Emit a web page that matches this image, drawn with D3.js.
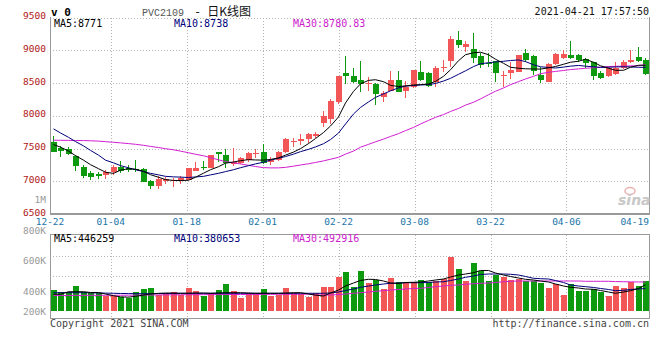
<!DOCTYPE html>
<html>
<head>
<meta charset="utf-8">
<script src="https://cdnjs.cloudflare.com/ajax/libs/d3/7.8.5/d3.min.js"></script>
<style>
body{margin:0;background:#fff}
svg{display:block}
text{font-family:"DejaVu Sans Mono","Liberation Mono",monospace;font-size:10px}
</style>
</head>
<body>
<script>
// PVC2109 daily K line, 80 trading days 12-22 .. 04-21
var tickIdx = [0, 8, 18, 28, 38, 48, 58, 68, 77];
var tickLabels = ["12-22","01-04","01-18","02-01","02-22","03-08","03-22","04-06","04-19"];
var priceTicks = [9500, 9000, 8500, 8000, 7500, 7000, 6500];
var volTickLabels = ["1M","800K","600K","400K","200K"];
var volTickValues = [1000000, 800000, 600000, 400000, 200000];

var open  = [7600,7510,7495,7385,7210,7125,7110,7090,7145,7220,7195,7185,7185,7000,6930,7005,7010,7015,7025,7160,
             7210,7205,7440,7400,7260,7285,7320,7410,7450,7295,7320,7450,7610,7615,7645,7695,7885,7950,8205,8650,
             8610,8550,8485,8485,8290,8380,8550,8380,8445,8665,8650,8520,8730,8840,9160,9050,9025,8905,8805,8830,
             8600,8650,8675,8960,8905,8625,8520,8790,8880,8930,8920,8870,8820,8660,8600,8635,8735,8820,8890,8855];
var high  = [7690,7535,7525,7400,7245,7160,7145,7170,7245,7305,7255,7320,7200,7015,7075,7065,7045,7075,7200,7295,
             7305,7400,7445,7500,7505,7370,7450,7490,7565,7375,7460,7665,7665,7715,7730,7745,8075,8255,8610,8915,
             8730,8830,8590,8500,8385,8690,8690,8535,8700,8830,8675,8765,8855,9220,9290,9145,9265,8960,8960,8830,
             8685,8820,8930,9025,8930,8750,8810,8960,9010,9145,8945,8885,8825,8685,8750,8820,8855,9010,9045,8885];
var low   = [7445,7365,7400,7160,7055,7025,7030,7040,7090,7125,7145,7145,6985,6875,6875,6965,6905,6965,7015,7155,
             7170,7195,7295,7195,7235,7260,7295,7350,7270,7245,7305,7425,7525,7550,7580,7665,7830,7870,8175,8480,
             8500,8360,8380,8165,8205,8375,8360,8275,8430,8535,8445,8435,8675,8750,9035,8980,8805,8730,8750,8520,
             8445,8565,8665,8820,8625,8500,8515,8780,8870,8870,8825,8730,8550,8565,8595,8625,8715,8810,8825,8625];
var close = [7450,7465,7410,7230,7075,7065,7080,7145,7220,7160,7170,7170,6990,6925,7040,7040,7025,7050,7195,7205,
             7200,7400,7410,7280,7295,7350,7435,7435,7280,7320,7450,7645,7620,7645,7715,7725,8000,8225,8610,8600,
             8515,8485,8505,8335,8345,8550,8370,8445,8700,8550,8455,8730,8750,9175,9075,9100,8880,8780,8790,8650,
             8615,8700,8930,8855,8690,8550,8790,8940,8940,8880,8855,8805,8600,8575,8730,8730,8820,8850,8830,8635];
var volume = [357,318,328,425,318,301,301,260,260,243,226,318,369,386,272,301,318,272,386,340,
              255,301,357,459,340,226,301,301,374,260,272,386,301,284,243,301,413,413,583,668,
              413,685,481,527,374,566,488,498,488,527,488,510,544,923,714,510,821,680,510,612,
              573,527,539,515,515,481,396,454,272,459,345,345,369,328,260,425,396,488,425,510];

var ma5  = [7560,7521,7460,7391,7322,7253,7192,7138,7120,7169,7192,7184,7153,7100,7061,7026,7012,7011,7015,7061,
            7123,7176,7222,7276,7294,7314,7330,7325,7322,7333,7357,7399,7445,7498,7575,7652,7744,7843,7981,8196,
            8372,8487,8540,8550,8520,8464,8446,8456,8469,8476,8484,8525,8602,8702,8840,8932,8962,8970,8932,8863,
            8801,8740,8725,8717,8714,8712,8732,8752,8786,8817,8832,8863,8817,8763,8725,8694,8694,8740,8771,8771];
var ma10 = [7800,7737,7671,7606,7540,7471,7399,7322,7281,7239,7205,7176,7147,7121,7097,7075,7067,7063,7057,7066,
            7075,7097,7121,7147,7176,7207,7238,7265,7291,7322,7351,7377,7414,7452,7487,7524,7573,7636,7736,7874,
            8027,8127,8211,8280,8334,8380,8426,8452,8462,8469,8475,8493,8530,8571,8633,8686,8751,8794,8809,8821,
            8832,8843,8852,8827,8778,8748,8737,8729,8743,8757,8768,8757,8748,8738,8741,8745,8748,8745,8740,8738];
var ma30 = [7627,7625,7624,7622,7621,7618,7613,7604,7595,7586,7575,7564,7549,7532,7515,7497,7480,7460,7435,7412,
            7389,7360,7327,7300,7282,7264,7244,7225,7208,7204,7204,7212,7230,7248,7267,7287,7311,7336,7365,7414,
            7461,7520,7563,7602,7644,7684,7727,7773,7822,7874,7929,7975,8018,8065,8111,8162,8206,8257,8321,8374,
            8424,8475,8521,8561,8602,8642,8663,8677,8691,8705,8715,8725,8732,8741,8751,8755,8758,8761,8764,8781];
var vma5  = [284,284,328,328,328,315,315,289,260,240,235,250,270,290,300,305,305,301,301,305,
             305,301,305,311,311,311,305,301,301,301,301,305,311,311,290,270,255,306,357,425,
             476,519,539,536,510,476,468,485,488,493,510,527,544,578,612,629,651,689,689,646,
             612,587,561,539,527,510,493,459,425,403,391,374,369,349,323,301,323,345,383,446];
var vma10 = [311,311,311,311,311,309,306,304,301,298,296,294,294,294,296,298,299,301,301,301,
             301,301,301,301,301,301,301,301,301,301,301,301,301,301,301,301,301,306,323,348,
             374,403,425,442,459,471,476,481,481,481,485,493,498,518,544,573,595,621,629,629,
             629,624,612,587,556,549,544,518,484,442,425,414,400,383,366,345,352,366,375,381];
var vma30 = [264,264,264,265,265,266,266,267,268,268,269,270,271,272,273,274,275,276,277,277,
             278,279,279,280,280,281,281,282,282,283,284,284,285,285,286,272,272,272,280,289,
             301,311,323,335,345,357,366,374,383,386,400,414,425,437,442,454,464,471,476,484,
             498,505,510,510,510,510,510,510,510,510,510,505,505,505,505,500,498,495,494,493];

var RED = "#f25656", GREEN = "#0e9a0e", NAVY = "#00007c", MAG = "#d21ed2";
var GRID = "#b4b4b4", BORDER = "#9a9a9a";

var svg = d3.select("body").append("svg")
    .attr("width", 660)
    .attr("height", 360);

// scales
var x = d3.scaleBand()
    .domain(d3.range(80))
    .range([50, 650])
    .paddingInner(0.2)
    .paddingOuter(0.1);
var gx = d3.scaleLinear().domain([0, 79]).range([50, 650]);
var y = d3.scaleLinear().domain([6500, 9500]).range([214, 17.5]);
var yv = d3.scaleLinear().domain([0, 1000000]).range([311, 311 - 1000000 / 17000]);
var yl = d3.scaleLinear().domain([1000000, 400000]).range([199.5, 291]);

function px(v){ return Math.round(v) + 0.5; }
function cx(i){ return Math.round(x(i)) + 2.5; }

// ---------- main panel grid ----------
var grid = svg.append("g").attr("stroke", GRID).attr("stroke-dasharray", "1,2").attr("fill", "none");
grid.selectAll(".hg")
    .data(priceTicks.slice(0, 6))
    .enter().append("line")
    .attr("x1", 50).attr("x2", 649)
    .attr("y1", function(d){ return px(y(d)); })
    .attr("y2", function(d){ return px(y(d)); });
grid.selectAll(".vg")
    .data(tickIdx.slice(1, 8))
    .enter().append("line")
    .attr("x1", function(d){ return px(gx(d)); })
    .attr("x2", function(d){ return px(gx(d)); })
    .attr("y1", 18).attr("y2", 213);
// volume panel grid
grid.selectAll(".vhg")
    .data([940000, 600000, 260000])
    .enter().append("line")
    .attr("x1", 50).attr("x2", 649)
    .attr("y1", function(d){ return px(yv(d)); })
    .attr("y2", function(d){ return px(yv(d)); });
grid.selectAll(".vvg")
    .data(tickIdx.slice(1, 8))
    .enter().append("line")
    .attr("x1", function(d){ return px(gx(d)); })
    .attr("x2", function(d){ return px(gx(d)); })
    .attr("y1", 235).attr("y2", 318);

// borders
var b = svg.append("g").attr("stroke", BORDER).attr("fill", "none").attr("shape-rendering", "crispEdges");
b.append("line").attr("x1", 50.5).attr("x2", 50.5).attr("y1", 17).attr("y2", 214);
b.append("line").attr("x1", 649.5).attr("x2", 649.5).attr("y1", 17).attr("y2", 214);
b.append("line").attr("x1", 50).attr("x2", 650).attr("y1", 213.5).attr("y2", 213.5).attr("stroke-width", 2);
b.append("line").attr("x1", 50).attr("x2", 650).attr("y1", 234.5).attr("y2", 234.5);
b.append("line").attr("x1", 50.5).attr("x2", 50.5).attr("y1", 234).attr("y2", 319);
b.append("line").attr("x1", 649.5).attr("x2", 649.5).attr("y1", 234).attr("y2", 319);
b.append("line").attr("x1", 50).attr("x2", 650).attr("y1", 318.5).attr("y2", 318.5);

// ---------- candles ----------
var idx = d3.range(80);
var cg = svg.append("g").attr("shape-rendering", "crispEdges");
cg.selectAll(".wick")
    .data(idx)
    .enter().append("rect")
    .attr("x", function(i){ return Math.round(x(i)) + 2; })
    .attr("width", 1)
    .attr("y", function(i){ return Math.round(y(high[i])); })
    .attr("height", function(i){ return Math.max(1, Math.round(y(low[i])) - Math.round(y(high[i]))); })
    .attr("fill", function(i){ return close[i] >= open[i] ? RED : GREEN; });
cg.selectAll(".body")
    .data(idx)
    .enter().append("rect")
    .attr("x", function(i){ return Math.round(x(i)); })
    .attr("width", Math.round(x.bandwidth()))
    .attr("y", function(i){ return Math.round(y(Math.max(open[i], close[i]))); })
    .attr("height", function(i){
        return Math.max(1, Math.round(y(Math.min(open[i], close[i]))) - Math.round(y(Math.max(open[i], close[i]))));
    })
    .attr("fill", function(i){ return close[i] >= open[i] ? RED : GREEN; });

// MA lines
var line = d3.line()
    .x(function(d, i){ return cx(i); })
    .y(function(d){ return y(d); });
[[ma30, MAG], [ma10, NAVY], [ma5, "#000"]].forEach(function(s){
    svg.append("path").attr("d", line(s[0])).attr("fill", "none").attr("stroke", s[1]).attr("stroke-width", 1);
});

// ---------- volume ----------
var vg = svg.append("g").attr("shape-rendering", "crispEdges");
vg.selectAll(".vbar")
    .data(idx)
    .enter().append("rect")
    .attr("x", function(i){ return Math.round(x(i)); })
    .attr("width", Math.round(x.bandwidth()))
    .attr("y", function(i){ return Math.round(yv(volume[i] * 1000)); })
    .attr("height", function(i){ return 311 - Math.round(yv(volume[i] * 1000)); })
    .attr("fill", function(i){ return close[i] >= open[i] ? RED : GREEN; });

var vline = d3.line()
    .x(function(d, i){ return cx(i); })
    .y(function(d){ return yv(d * 1000); });
[[vma30, MAG], [vma10, NAVY], [vma5, "#000"]].forEach(function(s){
    svg.append("path").attr("d", vline(s[0])).attr("fill", "none").attr("stroke", s[1]).attr("stroke-width", 1);
});

// ---------- text ----------
svg.selectAll(".plabel")
    .data(priceTicks)
    .enter().append("text")
    .attr("x", 46).attr("y", function(d){ return y(d) + 1.5; })
    .attr("text-anchor", "end")
    .attr("fill", "#b01818")
    .style("font-size", "9.5px")
    .text(function(d){ return d; });

svg.selectAll(".xlabel")
    .data(tickIdx)
    .enter().append("text")
    .attr("x", function(d, i){ return i == tickIdx.length - 1 ? 649 : gx(d); })
    .attr("y", 224.5)
    .attr("text-anchor", function(d, i){ return i == tickIdx.length - 1 ? "end" : "middle"; })
    .attr("fill", "#1a75aa")
    .style("font-size", "9.5px")
    .text(function(d, i){ return tickLabels[i]; });

svg.selectAll(".vlabel")
    .data(volTickValues)
    .enter().append("text")
    .attr("x", 46)
    .attr("y", function(d){ return Math.min(yl(d), 311) + 3.5; })
    .attr("text-anchor", "end")
    .attr("fill", "#9a9a9a")
    .style("font-size", "9.5px")
    .text(function(d, i){ return volTickLabels[i]; });

svg.append("text").attr("x", 51).attr("y", 16)
    .style("font-size", "11px").style("font-weight", "bold").text("v 0");
var title = svg.append("text").attr("x", 142).attr("y", 16);
title.append("tspan").attr("fill", "#555").style("font-family", "Liberation Mono").text("PVC2109");
title.append("tspan").attr("fill", "#222").attr("dx", 10).style("font-size", "12px").text("-");
title.append("tspan").attr("fill", "#111").attr("dx", 6)
    .style("font-family", "Noto Sans CJK SC").style("font-size", "12px").text("日K线图");
svg.append("text").attr("x", 649).attr("y", 15).attr("text-anchor", "end").attr("fill", "#111")
    .text("2021-04-21 17:57:50");

function maText(yy, vals){
    svg.append("text").attr("x", 54).attr("y", yy).attr("fill", "#000").text("MA5:" + vals[0]);
    svg.append("text").attr("x", 174).attr("y", yy).attr("fill", NAVY).text("MA10:" + vals[1]);
    svg.append("text").attr("x", 293).attr("y", yy).attr("fill", "#cc22cc").text("MA30:" + vals[2]);
}
maText(27, ["8771", "8738", "8780.83"]);
maText(242, ["446259", "380653", "492916"]);

// watermark
svg.append("ellipse").attr("cx", 630).attr("cy", 191).attr("rx", 5).attr("ry", 3.5)
    .attr("fill", "none").attr("stroke", "#eab0b0").attr("stroke-width", 1.5);
svg.append("text").attr("x", 618).attr("y", 205)
    .style("font-family", "DejaVu Sans").style("font-size", "14px").style("font-style", "italic")
    .style("font-weight", "bold").attr("fill", "#c8c8c8").text("sina");

svg.append("text").attr("x", 50).attr("y", 327).attr("fill", "#444").text("Copyright 2021 SINA.COM");
svg.append("text").attr("x", 649).attr("y", 327).attr("text-anchor", "end").attr("fill", "#444")
    .text("http://finance.sina.com.cn");
</script>
</body>
</html>
